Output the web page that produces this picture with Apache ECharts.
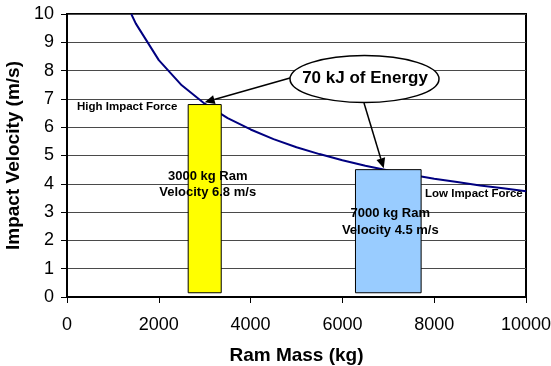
<!DOCTYPE html>
<html>
<head>
<meta charset="utf-8">
<script src="https://cdn.jsdelivr.net/npm/echarts@6/dist/echarts.min.js"></script>
<style>
  html, body { margin: 0; padding: 0; background: #fff; }
  #chart { width: 551px; height: 366px; }
</style>
</head>
<body>
<div id="chart"></div>
<script>
// Constant-energy curve: ram mass (kg) vs impact velocity (m/s)
const massKg   = [1400, 1500, 2000, 2500, 3000, 3500, 4000, 4500, 5000, 5500, 6000, 6500, 7000, 7500, 8000, 8500, 9000, 9500, 10000];
const velocity = [10.0, 9.66, 8.37, 7.48, 6.83, 6.32, 5.92, 5.58, 5.29, 5.05, 4.83, 4.64, 4.47, 4.32, 4.18, 4.06, 3.94, 3.84, 3.74];

// The two example rams
const ramMass     = [3000, 7000];
const ramVelocity = [6.8, 4.5];
const ramLabels   = ['3000 kg Ram\nVelocity 6.8 m/s', '7000 kg Ram\nVelocity 4.5 m/s'];

const xTicks = [0, 2000, 4000, 6000, 8000, 10000];
const yTicks = [0, 1, 2, 3, 4, 5, 6, 7, 8, 9, 10];

const FONT = '"Liberation Sans", Arial, sans-serif';
const chart = echarts.init(document.getElementById('chart'), null, { renderer: 'canvas' });

// bar styling per ram: half width in kg, fill colour, floor of the column
const barHalf = [360, 715];
const barFill = ['#ffff00', '#99ccff'];
const barFloor = 0.15;

chart.setOption({
  animation: false,
  backgroundColor: '#ffffff',
  grid: { left: 67, right: 25, top: 14, bottom: 69, containLabel: false, outerBoundsMode: 'none',
          show: true, borderColor: '#000', borderWidth: 2, backgroundColor: 'transparent' },
  xAxis: {
    type: 'value', min: xTicks[0], max: xTicks[xTicks.length - 1], interval: 2000,
    name: 'Ram Mass (kg)', nameLocation: 'middle', nameGap: 49,
    nameTextStyle: { fontFamily: FONT, fontWeight: 'bold', fontSize: 19, color: '#000' },
    axisLine: { show: true, onZero: false, lineStyle: { color: '#000', width: 2 } },
    axisTick: { show: true, inside: false, length: 6, lineStyle: { color: '#000', width: 1 } },
    axisLabel: { fontFamily: FONT, fontSize: 18, color: '#000', margin: 19, formatter: v => String(v) },
    splitLine: { show: false }
  },
  yAxis: {
    type: 'value', min: yTicks[0], max: yTicks[yTicks.length - 1], interval: 1,
    name: 'Impact Velocity (m/s)', nameLocation: 'middle', nameGap: 40,
    nameTextStyle: { fontFamily: FONT, fontWeight: 'bold', fontSize: 19, color: '#000' },
    axisLine: { show: true, onZero: false, lineStyle: { color: '#000', width: 2 } },
    axisTick: { show: true, inside: false, length: 6, lineStyle: { color: '#000', width: 1 } },
    axisLabel: { fontFamily: FONT, fontSize: 18, color: '#000', margin: 13, formatter: v => String(v) },
    splitLine: { show: true, lineStyle: { color: '#4a4a4a', width: 1 } }
  },
  series: [
    {
      type: 'line',
      data: massKg.map((m, i) => [m, velocity[i]]),
      showSymbol: false, smooth: false, z: 2,
      lineStyle: { color: '#000080', width: 2 }
    },
    {
      type: 'custom', z: 3,
      data: ramMass.map((m, i) => [m, ramVelocity[i], i]),
      renderItem: function (params, api) {
        const i = api.value(2);
        const m = api.value(0);
        const p0 = api.coord([m - barHalf[i], api.value(1)]);
        const p1 = api.coord([m + barHalf[i], barFloor]);
        return {
          type: 'rect',
          shape: { x: p0[0], y: p0[1], width: p1[0] - p0[0], height: p1[1] - p0[1] },
          style: { fill: barFill[i], stroke: '#000', lineWidth: 1 }
        };
      }
    }
  ]
});

// Annotations: labels, callout ellipse and arrows
const tipA = chart.convertToPixel({ gridIndex: 0 }, [ramMass[0], ramVelocity[0] + 0.08]);
const tipB = chart.convertToPixel({ gridIndex: 0 }, [ramMass[1] - 100, ramVelocity[1] + 0.05]);

function arrow(x1, y1, x2, y2) {
  const ang = Math.atan2(y2 - y1, x2 - x1);
  const len = 10, wid = 4.5;
  const bx = x2 - len * Math.cos(ang), by = y2 - len * Math.sin(ang);
  return [
    { type: 'line', z: 10, shape: { x1: x1, y1: y1, x2: bx, y2: by }, style: { stroke: '#000', lineWidth: 1.5 } },
    { type: 'polygon', z: 10, shape: { points: [[x2, y2],
        [bx + wid * Math.sin(ang), by - wid * Math.cos(ang)],
        [bx - wid * Math.sin(ang), by + wid * Math.cos(ang)]] }, style: { fill: '#000' } }
  ];
}

const boldText = (x, y, text, size, align, lh) => ({
  type: 'text', z: 12, x: x, y: y,
  style: { text: text, fontFamily: FONT, fontWeight: 'bold', fontSize: size, fill: '#000',
           align: align || 'center', verticalAlign: 'middle', lineHeight: lh || size + 2 }
});

const barA = chart.convertToPixel({ gridIndex: 0 }, [ramMass[0], 0]);
const barB = chart.convertToPixel({ gridIndex: 0 }, [ramMass[1], 0]);

chart.setOption({
  graphic: [
    boldText(77, 107, 'High Impact Force', 11.5, 'left'),
    boldText(425, 194, 'Low Impact Force', 11.5, 'left'),
    boldText(barA[0] + 3, 184, ramLabels[0], 13, 'center', 16),
    boldText(barB[0] + 2, 221.5, ramLabels[1], 13, 'center', 17),
    ...arrow(290, 78, tipA[0], tipA[1]),
    ...arrow(364, 103, tipB[0], tipB[1]),
    { type: 'ellipse', z: 11, shape: { cx: 364.5, cy: 79, rx: 74.5, ry: 23.5 },
      style: { fill: '#fff', stroke: '#000', lineWidth: 1.5 } },
    boldText(365, 78, '70 kJ of Energy', 17)
  ]
});
</script>
</body>
</html>
